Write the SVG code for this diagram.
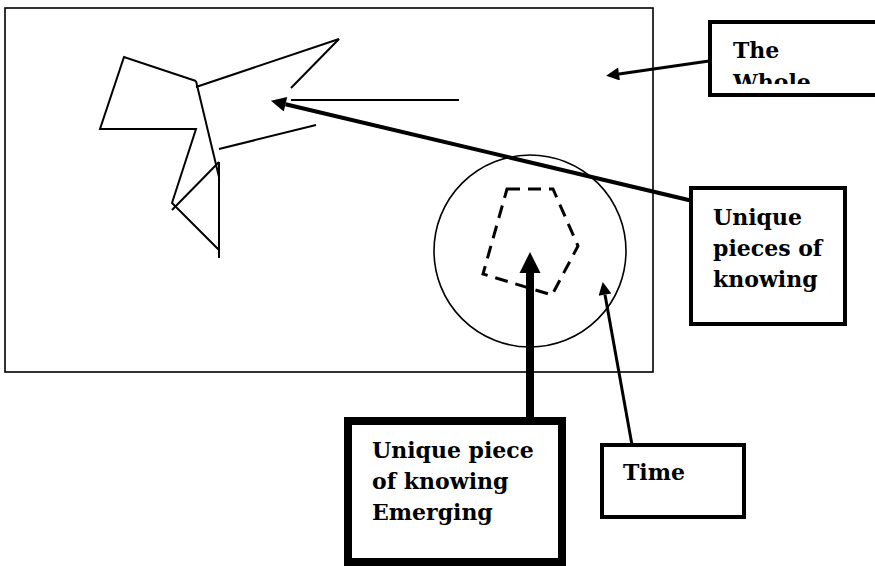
<svg xmlns="http://www.w3.org/2000/svg" width="875" height="566" viewBox="0 0 875 566">
<style>
.thin{fill:none;stroke:#000;stroke-width:1.6}
.shape{fill:none;stroke:#000;stroke-width:2;stroke-linejoin:miter}
.box{fill:#fff;stroke:#000;stroke-width:4}
.lbl{font-family:"DejaVu Serif","Liberation Serif",serif;font-weight:bold;font-size:22px;fill:#000}
.conn{fill:none;stroke:#000}
</style>
<defs>
<marker id="ah16" viewBox="0 0 10 10" refX="0" refY="5" markerUnits="userSpaceOnUse" markerWidth="16" markerHeight="13" orient="auto"><path d="M0,0 L10,5 L0,10 z" fill="#000"/></marker>
<marker id="ah18" viewBox="0 0 10 10" refX="0" refY="5" markerUnits="userSpaceOnUse" markerWidth="18" markerHeight="15" orient="auto"><path d="M0,0 L10,5 L0,10 z" fill="#000"/></marker>
<marker id="ah21" viewBox="0 0 10 10" refX="0" refY="5" markerUnits="userSpaceOnUse" markerWidth="21" markerHeight="23" orient="auto"><path d="M0,0 L10,5 L0,10 z" fill="#000"/></marker>
<marker id="ah17" viewBox="0 0 10 10" refX="0" refY="5" markerUnits="userSpaceOnUse" markerWidth="17" markerHeight="13" orient="auto"><path d="M0,0 L10,5 L0,10 z" fill="#000"/></marker>
<clipPath id="wholeClip"><rect x="712" y="24" width="170" height="60"/></clipPath>
</defs>

<g id="whole-area">
<rect x="5" y="8" width="648" height="364" class="thin"/>
</g>

<g id="pieces">
<polyline class="shape" points="196,81 124,57 100,129 196,129 172,203 219,250"/>
<line class="shape" x1="196" y1="81" x2="219" y2="177"/>
<line class="shape" x1="172" y1="210" x2="219" y2="162"/>
<line class="shape" x1="219" y1="162" x2="219" y2="258"/>
<line class="shape" x1="196" y1="87" x2="339" y2="39"/>
<line class="shape" x1="339" y1="39" x2="291" y2="88"/>
<line class="shape" x1="219" y1="149" x2="316" y2="125"/>
<line class="shape" x1="291" y1="100" x2="459" y2="100"/>
</g>

<g id="time-circle">
<circle cx="530" cy="251" r="96" class="thin"/>
</g>

<g id="emerging-piece">
<polygon points="507,189 553,189 578,246 552,295 483,274" fill="none" stroke="#000" stroke-width="3" stroke-dasharray="13,8"/>
</g>

<g id="connectors">
<line class="conn" stroke-width="3" x1="709" y1="61" x2="619" y2="74" marker-end="url(#ah16)"/>
<line class="conn" stroke-width="4" x1="697" y1="202" x2="285.5" y2="104.2" marker-end="url(#ah18)"/>
<line class="conn" stroke-width="8" x1="530" y1="421" x2="530" y2="273" marker-end="url(#ah21)"/>
<line class="conn" stroke-width="3" x1="632" y1="445" x2="605" y2="294.7" marker-end="url(#ah17)"/>
</g>

<g id="box-whole">
<rect x="710" y="22" width="180" height="73" class="box"/>
<g clip-path="url(#wholeClip)">
<text class="lbl" x="733" y="58">The</text>
<text class="lbl" x="733" y="90">Whole</text>
</g>
</g>

<g id="box-unique-pieces">
<rect x="691" y="188" width="154" height="136" class="box"/>
<text class="lbl" x="713" y="225">Unique</text>
<text class="lbl" x="713" y="256">pieces of</text>
<text class="lbl" x="713" y="287">knowing</text>
</g>

<g id="box-emerging">
<rect x="348" y="421" width="214" height="141" fill="#fff" stroke="#000" stroke-width="8"/>
<text class="lbl" x="372" y="458">Unique piece</text>
<text class="lbl" x="372" y="489">of knowing</text>
<text class="lbl" x="372" y="520">Emerging</text>
</g>

<g id="box-time">
<rect x="602" y="445" width="142" height="72" class="box"/>
<text class="lbl" x="623" y="480">Time</text>
</g>
</svg>
